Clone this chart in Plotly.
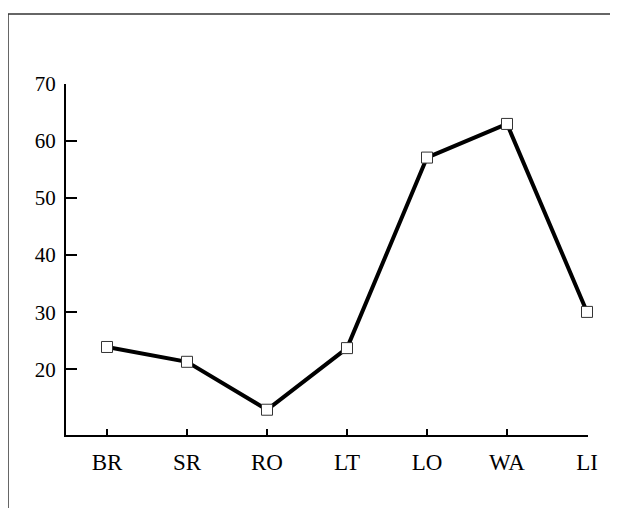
import plotly.graph_objects as go

categories = ["BR", "SR", "RO", "LT", "LO", "WA", "LI"]
values = [23.9, 21.3, 12.9, 23.7, 57.1, 63.0, 30.05]
y_tick_values = [20, 30, 40, 50, 60, 70]
y_tick_labels = ["20", "30", "40", "50", "60", "70"]

# page body has an 8px margin; figure sized to fill the rest of the window
OFF = 8
W, H = 618 - OFF, 508 - OFF
L, T = 66 - OFF, 84 - OFF
R = W - (588 - OFF)
B = H - (435 - OFF)
pw, ph = W - L - R, H - T - B

def px_x(p):
    return (p - OFF - L) / pw

def px_y(p):
    return 1 - (p - OFF - T) / ph

fig = go.Figure()
fig.add_trace(go.Scatter(
    x=list(range(len(categories))), y=values,
    mode="lines+markers",
    line=dict(color="black", width=4),
    marker=dict(symbol="square", size=11, color="white",
                line=dict(color="#333333", width=1)),
    showlegend=False, cliponaxis=False,
))

family = "Liberation Serif, Times New Roman, serif"
xfont = dict(family=family, size=23, color="black")
yfont = dict(family=family, size=21, color="black")

fig.update_layout(
    width=W, height=H,
    margin=dict(l=L, r=R, t=T, b=B, pad=0),
    paper_bgcolor="white", plot_bgcolor="white",
    font=yfont,
    xaxis=dict(
        range=[-0.5125, 6.0125],
        tickmode="array", tickvals=list(range(len(categories))), ticktext=categories,
        ticks="inside", ticklen=6, tickwidth=1.5, tickcolor="black",
        showline=True, linecolor="black", linewidth=2,
        showgrid=False, zeroline=False, ticklabelstandoff=5,
        tickfont=xfont,
    ),
    yaxis=dict(
        range=[8.47, 70],
        tickmode="array", tickvals=y_tick_values, ticktext=y_tick_labels,
        ticks="inside", ticklen=11, tickwidth=2, tickcolor="black",
        showline=True, linecolor="black", linewidth=2,
        showgrid=False, zeroline=False, ticklabelstandoff=4,
        tickfont=yfont,
    ),
    shapes=[
        dict(type="line", xref="paper", yref="paper",
             x0=px_x(8), x1=px_x(620), y0=px_y(14), y1=px_y(14),
             line=dict(color="#333333", width=1.5)),
        dict(type="line", xref="paper", yref="paper",
             x0=px_x(8), x1=px_x(8), y0=px_y(14), y1=px_y(510),
             line=dict(color="#333333", width=1.5)),
    ],
)

fig.write_html("out.html")
